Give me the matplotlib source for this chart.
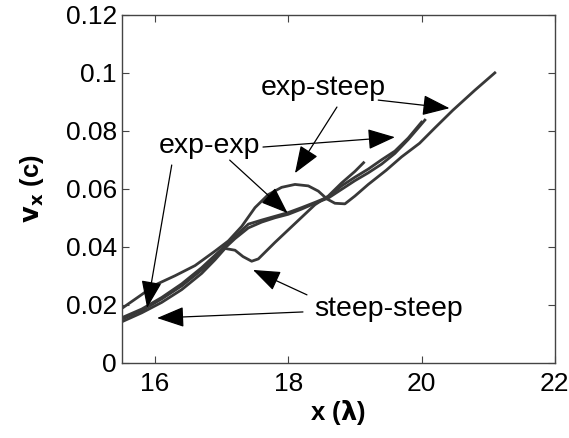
#Velocity vs position for the four density profile combinations
import numpy as np
import matplotlib
matplotlib.use('Agg')
import matplotlib.pyplot as plt

plt.rcParams['font.family'] = ['Liberation Sans', 'DejaVu Sans']

#curve data, x in lambda, v in c
x_es = [15.5, 15.8, 16.0, 16.3, 16.6, 16.9, 17.1, 17.3, 17.5, 17.7, 17.9, 18.1, 18.3, 18.45, 18.58,
        18.7, 18.85, 19.0, 19.2, 19.47, 19.7, 19.97, 20.2, 20.47, 20.8, 21.1]
v_es = [0.0187, 0.0235, 0.0268, 0.0300, 0.0335, 0.0385, 0.0420, 0.0470, 0.0535, 0.0580, 0.0605, 0.0615,
        0.0610, 0.0592, 0.0565, 0.0550, 0.0548, 0.0575, 0.0615, 0.0664, 0.0710, 0.0757, 0.0810, 0.0871,
        0.0940, 0.1000]

x_ee = [15.5, 15.8, 16.1, 16.4, 16.7, 17.0, 17.2, 17.4, 17.6, 17.8, 18.0, 18.2, 18.4, 18.6, 18.8,
        19.0, 19.2, 19.4, 19.6, 19.8, 19.95, 20.05]
v_ee = [0.0150, 0.0180, 0.0220, 0.0265, 0.0320, 0.0385, 0.0428, 0.0465, 0.0485, 0.0500, 0.0512, 0.0530,
        0.0550, 0.0568, 0.0598, 0.0628, 0.0655, 0.0685, 0.0722, 0.0770, 0.0810, 0.0837]

x_ss = [15.5, 15.8, 16.1, 16.4, 16.7, 16.9, 17.05, 17.2, 17.32, 17.45, 17.55, 17.8, 18.1, 18.4,
        18.6, 18.8, 19.0, 19.13]
v_ss = [0.0141, 0.0172, 0.0208, 0.0252, 0.0308, 0.0355, 0.0394, 0.0388, 0.0366, 0.0350, 0.0358,
        0.0415, 0.0480, 0.0545, 0.0575, 0.0620, 0.0660, 0.0690]

x_se = [15.5, 15.8, 16.1, 16.4, 16.7, 17.0, 17.2, 17.4, 17.6, 17.8, 18.0, 18.2, 18.4, 18.6, 18.8,
        19.0, 19.2, 19.4, 19.6, 19.8, 20.0]
v_se = [0.0155, 0.0185, 0.0225, 0.0272, 0.0328, 0.0392, 0.0435, 0.0478, 0.0492, 0.0505, 0.0518,
        0.0535, 0.0553, 0.0572, 0.0610, 0.0640, 0.0668, 0.0700, 0.0730, 0.0775, 0.0830]

xticks = [16, 18, 20, 22]
yticks = [0, 0.02, 0.04, 0.06, 0.08, 0.1, 0.12]
ylabels = ['0', '0.02', '0.04', '0.06', '0.08', '0.1', '0.12']

#setting up plot
fig = plt.figure(figsize=(5.69, 4.38), dpi=100)
ax = fig.add_axes([0.214, 0.172, 0.761, 0.794])

lc = '#383838'
for xx, vv in [(x_es, v_es), (x_ee, v_ee), (x_ss, v_ss), (x_se, v_se)]:
    ax.plot(xx, vv, color=lc, lw=2.0)

ax.set_xlim(15.5, 22)
ax.set_ylim(0, 0.12)
ax.set_xticks(xticks)
ax.set_yticks(yticks)
ax.set_yticklabels(ylabels)
ax.tick_params(direction='in', top=True, right=True, labelsize=19, length=5, color='#444444')
ax.tick_params(axis='x', pad=7)
for s in ax.spines.values():
    s.set_color('#444444')
    s.set_linewidth(1.0)

ax.set_xlabel(r'x ($\mathbf{\lambda}$)', fontsize=18.5, fontweight='bold', labelpad=1)
ax.set_ylabel(r'$\mathbf{v_x}$ (c)', fontsize=18.5, fontweight='bold', labelpad=14)

#labels and arrows
aprops = dict(arrowstyle='-|>,head_length=0.85,head_width=0.32', color='black', lw=0.9,
              mutation_scale=20, shrinkA=0, shrinkB=0)
ax.text(18.53, 0.0947, 'exp-steep', fontsize=20.5, ha='center', va='center')
ax.annotate('', xy=(20.42, 0.0878), xytext=(19.35, 0.0906), arrowprops=aprops)
ax.annotate('', xy=(18.10, 0.0654), xytext=(18.73, 0.0882), arrowprops=aprops)

ax.text(16.82, 0.0747, 'exp-exp', fontsize=20.5, ha='center', va='center')
ax.annotate('', xy=(19.60, 0.0778), xytext=(17.62, 0.0744), arrowprops=aprops)
ax.annotate('', xy=(17.99, 0.0516), xytext=(17.12, 0.0699), arrowprops=aprops)
ax.annotate('', xy=(15.88, 0.0189), xytext=(16.25, 0.0682), arrowprops=aprops)

ax.text(19.51, 0.0185, 'steep-steep', fontsize=20.5, ha='center', va='center')
ax.annotate('', xy=(17.47, 0.0320), xytext=(18.28, 0.0234), arrowprops=aprops)
ax.annotate('', xy=(16.03, 0.0154), xytext=(18.22, 0.0175), arrowprops=aprops)

plt.savefig('out.png', dpi=100)
